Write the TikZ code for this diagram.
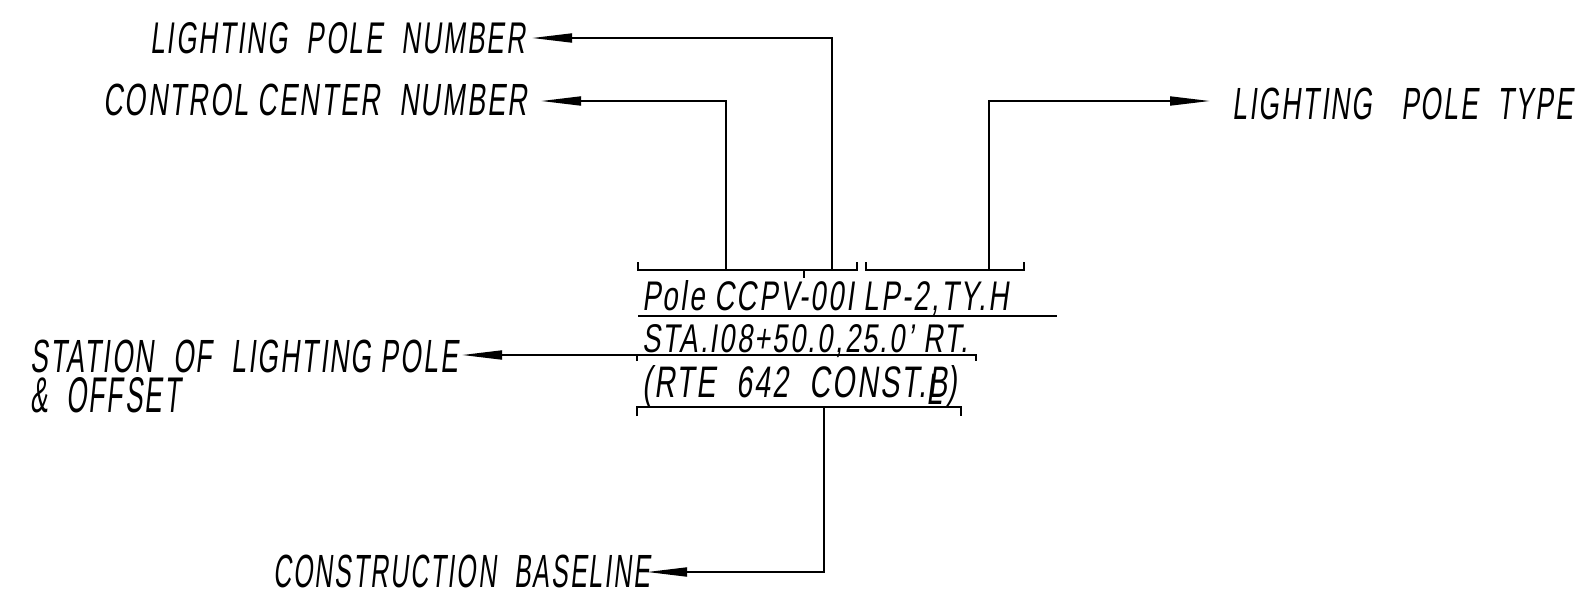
\documentclass[tikz,border=0pt]{standalone}
\usepackage{fontspec}
\usepackage{graphicx}
\newfontfamily\cadfont{Liberation Sans}[FakeSlant=0.2,LetterSpace=8]
\usetikzlibrary{arrows.meta}
\newcommand\cadtxt[3]{\resizebox{#1pt}{#2pt}{\cadfont #3}}
\tikzset{
  lbl/.style={inner sep=0pt, anchor=base west},
  lead/.style={line width=1.8pt, -{Triangle[length=40pt,width=9pt]}},
  brk/.style={line width=1.6pt},
  under/.style={line width=1.6pt}
}
\begin{document}
\begin{tikzpicture}[x=1pt,y=-1pt]
\useasboundingbox (0,0) rectangle (1581,592);
% labels
\node[lbl] (lpn) at (150,53) {\cadtxt{375}{31}{LIGHTING\ \ POLE\ \ NUMBER}};
\node[lbl] (ccn) at (103,115) {\cadtxt{424}{31.5}{CONTROL CENTER\ \ NUMBER}};
\node[lbl] (lpt) at (1232,119) {\cadtxt{341}{31.5}{LIGHTING\ \ \ POLE\ \ TYPE}};
\node[lbl] (sta) at (30,372) {\cadtxt{428}{32.5}{STATION\ \ OF\ \ LIGHTING POLE}};
\node[lbl] (off) at (30,412) {\cadtxt{150}{35}{\&\ \ OFFSET}};
\node[lbl] (cb) at (273,587) {\cadtxt{377}{32.5}{CONSTRUCTION\ \ BASELINE}};
% main rows
\node[lbl] (r1) at (642,310) {\cadtxt{366}{30}{Pole CCPV-00I LP-2,TY.H}};
\node[lbl] (r2) at (642,352) {\cadtxt{326}{28}{STA.I08+50.0,25.0’ RT.}};
\node[lbl] (r3) at (642,397) {\cadtxt{315}{32}{(RTE\ \ 642\ \ CONST.B\llap{\raisebox{-0.18em}{L\,}})}};
% underline
\draw[under] (638,316) -- (1057,316);
% brackets
\coordinate (b1l) at (638,270); \coordinate (b1r) at (857,270);
\coordinate (b2l) at (866,270); \coordinate (b2r) at (1024,270);
\draw[brk] ([yshift=8pt]b1l) -- (b1l) -- (b1r) -- ([yshift=8pt]b1r);
\draw[brk] (804,270) -- (804,278);
\draw[brk] ([yshift=8pt]b2l) -- (b2l) -- (b2r) -- ([yshift=8pt]b2r);
\coordinate (b3l) at (637,355); \coordinate (b3r) at (976,355);
\draw[brk] ([yshift=-6pt]b3l) -- (b3l) -- (b3r) -- ([yshift=-6pt]b3r);
\coordinate (b4l) at (637,407); \coordinate (b4r) at (961,407);
\draw[brk] ([yshift=-9pt]b4l) -- (b4l) -- (b4r) -- ([yshift=-9pt]b4r);
% attach points and tips
\coordinate (alpn) at (832,270); \coordinate (tlpn) at (532,38);
\coordinate (accn) at (726,270); \coordinate (tccn) at (541,101);
\coordinate (alpt) at (989,270); \coordinate (tlpt) at (1210,101);
\coordinate (tsta) at (462,355);
\coordinate (acb) at (824,407); \coordinate (tcb) at (647,572);
% leaders
\draw[lead] (alpn) |- (tlpn);
\draw[lead] (accn) |- (tccn);
\draw[lead] (alpt) |- (tlpt);
\draw[lead] (b3l) -- (tsta);
\draw[lead] (acb) |- (tcb);
\end{tikzpicture}
\end{document}
